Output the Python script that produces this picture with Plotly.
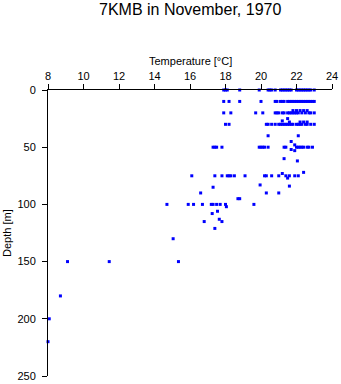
import plotly.graph_objects as go

# Depth levels [m] and temperatures [°C] read at each level
depth_levels = [0, 10, 18, 20, 25, 27, 28, 30, 40, 45, 48, 50, 52, 53, 60, 62,
                72, 73, 75, 77, 83, 84, 85, 90, 95, 100, 102, 106, 108, 113,
                115, 121, 130, 150, 180, 200, 220]
temps_by_level = [
    [17.9, 18.0, 18.1, 18.8, 19.9, 20.4, 20.5, 20.6, 20.8, 21.1, 21.2, 21.3, 21.4,
     21.5, 21.6, 21.7, 22.0, 22.1, 22.2, 22.3, 22.4, 22.5, 22.6, 22.7, 22.8, 23.0],
    [17.9, 18.2, 18.8, 20.0, 20.8, 20.9, 21.1, 21.2, 21.3, 21.5, 21.6, 21.7, 21.8,
     21.9, 22.0, 22.1, 22.2, 22.3, 22.4, 22.5, 22.6, 22.7, 22.8, 22.9, 23.0],
    [21.8, 22.0, 22.2, 22.4, 22.6],
    [17.9, 18.3, 19.7, 20.1, 20.8, 20.9, 21.0, 21.2, 21.3, 21.5, 21.6, 21.7, 21.8,
     21.9, 22.0, 22.1, 22.3, 22.5, 22.7, 22.8, 23.0],
    [21.5],
    [21.2],
    [21.6, 22.2, 22.4, 22.6],
    [18.0, 18.2, 20.3, 20.4, 20.6, 20.8, 21.0, 21.1, 21.2, 21.3, 21.4, 21.5, 21.6,
     21.7, 21.8, 22.0, 22.1, 22.2, 22.3, 22.5, 22.6, 22.8, 23.0],
    [20.4, 22.1],
    [21.7],
    [21.9],
    [17.3, 17.4, 17.5, 17.8, 19.9, 20.0, 20.1, 20.2, 20.4, 21.3, 21.4, 22.0, 22.1,
     22.2, 22.3, 22.4, 22.6, 22.7, 22.9],
    [21.7],
    [21.9],
    [21.3],
    [22.05],
    [22.4],
    [21.2],
    [16.1, 17.4, 17.8, 18.1, 18.2, 18.3, 18.5, 19.1, 20.2, 20.3, 20.6, 21.0, 21.4,
     21.6, 21.9, 22.1],
    [21.5],
    [19.95],
    [21.6],
    [17.3],
    [16.6, 20.3, 21.0],
    [18.7, 18.8],
    [14.7, 15.9, 16.2, 16.7, 17.2, 17.3, 17.5, 17.7, 18.0, 19.6],
    [18.05],
    [17.55],
    [17.25],
    [17.65],
    [16.8, 17.8],
    [17.4],
    [15.05],
    [9.1, 11.45, 15.35],
    [8.7],
    [8.07],
    [8.0],
]
x_ticks = [8, 10, 12, 14, 16, 18, 20, 22, 24]
y_ticks = [0, 50, 100, 150, 200, 250]

temperature = []
depth = []
for d, ts in zip(depth_levels, temps_by_level):
    for t in ts:
        temperature.append(t)
        depth.append(d)

FONT = "Liberation Sans, Arial, sans-serif"

fig = go.Figure(go.Scatter(
    x=temperature, y=depth, mode="markers",
    marker=dict(symbol="square", size=3, color="#0000ff", line=dict(width=0)),
    cliponaxis=False, hoverinfo="x+y",
))

fig.update_layout(
    width=341, height=384,
    margin=dict(l=48, r=9, t=90, b=8),
    paper_bgcolor="white", plot_bgcolor="white",
    showlegend=False,
    font=dict(family=FONT, size=11, color="black"),
    annotations=[
        dict(text="7KMB in November, 1970", xref="paper", yref="paper",
             x=0.5, y=1, yshift=81, xanchor="center", yanchor="middle",
             showarrow=False, font=dict(size=16, family=FONT)),
        dict(text="Temperature [°C]", xref="paper", yref="paper",
             x=0.5, y=1, yshift=29, xanchor="center", yanchor="middle",
             showarrow=False, font=dict(size=11, family=FONT)),
        dict(text="Depth [m]", xref="paper", yref="paper",
             x=0, y=0.5, xshift=-41, xanchor="center", yanchor="middle",
             textangle=-90, showarrow=False, font=dict(size=11, family=FONT)),
    ],
)
fig.update_xaxes(
    side="top", range=[8, 24], tickvals=x_ticks, automargin=False,
    showline=True, linecolor="black", linewidth=1,
    ticks="outside", ticklen=5, tickcolor="black",
    showgrid=False, zeroline=False, mirror=False,
    tickfont=dict(size=11),
)
fig.update_yaxes(
    range=[250, 0], tickvals=y_ticks, automargin=False,
    showline=True, linecolor="black", linewidth=1,
    ticks="outside", ticklen=5, tickcolor="black",
    showgrid=False, zeroline=False, mirror=False,
    tickfont=dict(size=11), ticklabelstandoff=4,
)

fig.write_html("out.html")
